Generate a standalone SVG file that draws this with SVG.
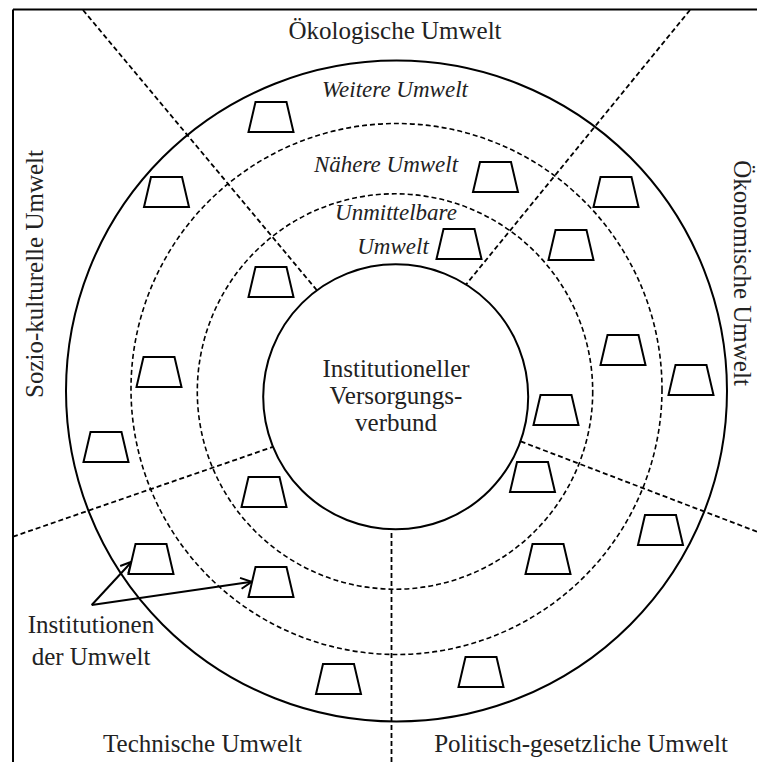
<svg xmlns="http://www.w3.org/2000/svg" width="757" height="762" viewBox="0 0 757 762">
  <style>
    .frame { fill: none; stroke: #000; stroke-width: 2; }
    .ring { fill: none; stroke: #000; stroke-width: 2; }
    .ring-dash { fill: none; stroke: #000; stroke-width: 1.6; stroke-dasharray: 5 3; }
    .sector { fill: none; stroke: #000; stroke-width: 1.8; stroke-dasharray: 5 3; }
    .core { fill: #fff; stroke: #000; stroke-width: 2; }
    .inst { fill: #fff; stroke: #000; stroke-width: 2; stroke-linejoin: miter; }
    .arrow { fill: none; stroke: #000; stroke-width: 2; marker-end: url(#open-head); }
    .lbl { font-family: "Liberation Serif", "Times New Roman", serif; font-size: 25px; fill: #222; text-anchor: middle; }
    .zone { font-family: "Liberation Serif", "Times New Roman", serif; font-size: 23px; font-style: italic; fill: #222; text-anchor: middle; }
  </style>
  <defs>
    <!-- trapezoid used for every institution of the environment -->
    <path id="trap" d="M-15.5,0 L15.5,0 L22.5,30 L-22.5,30 Z"/>
    <marker id="open-head" markerUnits="userSpaceOnUse" markerWidth="14" markerHeight="14" refX="0" refY="0" viewBox="-12 -7 14 14" orient="auto">
      <path d="M-11,-5.5 L0,0 L-11,5.5" fill="none" stroke="#000" stroke-width="2"/>
    </marker>
  </defs>

  <rect width="757" height="762" fill="#fff"/>

  <!-- frame (top and left edge) -->
  <path class="frame" d="M13,9.5 H757 M13,9.5 V762"/>

  <!-- environment rings -->
  <g id="rings">
    <circle id="ring-outer" class="ring" cx="396.5" cy="391" r="330.5"/>
    <circle id="ring-middle" class="ring-dash" cx="396.5" cy="389" r="265.5"/>
    <circle id="ring-inner" class="ring-dash" cx="395" cy="391.5" r="197.7"/>
  </g>

  <!-- connectors: sector boundaries and pointer arrows -->
  <g id="connectors">
    <line class="sector" x1="83" y1="10" x2="320" y2="294"/>
    <line class="sector" x1="690" y1="10" x2="464" y2="287"/>
    <line class="sector" x1="757" y1="531.7" x2="517" y2="440"/>
    <line class="sector" x1="391.5" y1="762" x2="391.5" y2="524"/>
    <line class="sector" x1="13" y1="536.7" x2="276" y2="445.8"/>
    <line class="arrow" x1="91.7" y1="605" x2="131.7" y2="561.7"/>
    <line class="arrow" x1="91.7" y1="605" x2="251.7" y2="581.7"/>
  </g>

  <!-- central node -->
  <g id="versorgungsverbund">
    <circle class="core" cx="395.7" cy="396.8" r="132.5"/>
    <text class="lbl" x="396" y="377">Institutioneller</text>
    <text class="lbl" x="396" y="404">Versorgungs-</text>
    <text class="lbl" x="396" y="431">verbund</text>
  </g>

  <!-- ring labels -->
  <g id="zone-labels">
    <text class="zone" x="395" y="97">Weitere Umwelt</text>
    <text class="zone" x="386" y="172">Nähere Umwelt</text>
    <text class="zone" x="396" y="220">Unmittelbare</text>
    <text class="zone" x="393" y="254">Umwelt</text>
  </g>

  <!-- sector labels -->
  <g id="sector-labels">
    <text id="oekologisch" class="lbl" x="395" y="39">Ökologische Umwelt</text>
    <text id="soziokulturell" class="lbl" transform="translate(43,274) rotate(-90)">Sozio-kulturelle Umwelt</text>
    <text id="oekonomisch" class="lbl" transform="translate(734,273) rotate(90)">Ökonomische Umwelt</text>
    <text id="technisch" class="lbl" x="202.5" y="752">Technische Umwelt</text>
    <text id="politisch" class="lbl" x="581" y="752">Politisch-gesetzliche Umwelt</text>
  </g>

  <!-- legend for the trapezoids -->
  <g id="legend">
    <text class="lbl" x="91" y="633">Institutionen</text>
    <text class="lbl" x="91" y="665">der Umwelt</text>
  </g>

  <!-- institutions of the environment -->
  <g id="inst-01"><use href="#trap" class="inst" x="271" y="102"/></g>
  <g id="inst-02"><use href="#trap" class="inst" x="495.5" y="162"/></g>
  <g id="inst-03"><use href="#trap" class="inst" x="616" y="177"/></g>
  <g id="inst-04"><use href="#trap" class="inst" x="166.5" y="177"/></g>
  <g id="inst-05"><use href="#trap" class="inst" x="459" y="229"/></g>
  <g id="inst-06"><use href="#trap" class="inst" x="271" y="267"/></g>
  <g id="inst-07"><use href="#trap" class="inst" x="571" y="230"/></g>
  <g id="inst-08"><use href="#trap" class="inst" x="623" y="335"/></g>
  <g id="inst-09"><use href="#trap" class="inst" x="691" y="365"/></g>
  <g id="inst-10"><use href="#trap" class="inst" x="556" y="395"/></g>
  <g id="inst-11"><use href="#trap" class="inst" x="159" y="357"/></g>
  <g id="inst-12"><use href="#trap" class="inst" x="106" y="432"/></g>
  <g id="inst-13"><use href="#trap" class="inst" x="532.5" y="462"/></g>
  <g id="inst-14"><use href="#trap" class="inst" x="264" y="477"/></g>
  <g id="inst-15"><use href="#trap" class="inst" x="151" y="544"/></g>
  <g id="inst-16"><use href="#trap" class="inst" x="271" y="567"/></g>
  <g id="inst-17"><use href="#trap" class="inst" x="338.5" y="664"/></g>
  <g id="inst-18"><use href="#trap" class="inst" x="481" y="657"/></g>
  <g id="inst-19"><use href="#trap" class="inst" x="548" y="544"/></g>
  <g id="inst-20"><use href="#trap" class="inst" x="660.5" y="515"/></g>
</svg>
